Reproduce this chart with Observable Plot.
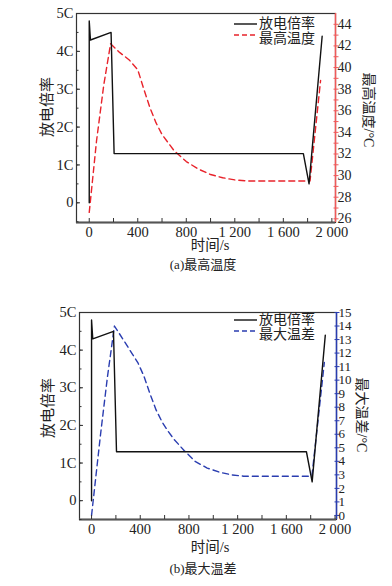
<!DOCTYPE html>
<html><head><meta charset="utf-8">
<script src="https://cdn.jsdelivr.net/npm/d3@7"></script>
<script src="https://cdn.jsdelivr.net/npm/@observablehq/plot@0.6"></script>
<style>
body{margin:0;background:#fff;}
#root{position:relative;width:392px;height:586px;font-family:"Liberation Serif","Times New Roman","DejaVu Serif","Noto Sans CJK SC",serif;color:#222;overflow:hidden;}
.abs{position:absolute;white-space:nowrap;line-height:1;}
.c{transform:translate(-50%,-50%);}
.rl{transform:translate(-50%,-50%) rotate(-90deg);}
.rr{transform:translate(-50%,-50%) rotate(90deg);}
</style></head><body><div id="root"></div>
<script>
// discharge rate (C) vs time (s)
const rateTime  = [0, 0, 10, 180, 205, 1765, 1812, 1920];
const rateValue = [0, 4.8, 4.3, 4.5, 1.3, 1.3, 0.5, 4.4];
// (a) maximum temperature (°C)
const maxTempTime  = [0, 60, 120, 176, 250, 330, 400, 450, 500, 550, 600, 700, 800, 900, 1000, 1100, 1200, 1300, 1820, 1907];
const maxTempValue = [26.6, 33.2, 38.4, 42.2, 41.4, 40.7, 39.8, 38.0, 36.3, 34.9, 33.8, 32.3, 31.3, 30.6, 30.1, 29.8, 29.6, 29.5, 29.5, 38.8];
// (b) maximum temperature difference (°C)
const maxDiffTime  = [0, 74, 130, 188, 260, 330, 380, 430, 480, 530, 580, 630, 680, 760, 850, 950, 1050, 1150, 1250, 1810, 1912];
const maxDiffValue = [0, 6.0, 10.2, 14.0, 13.0, 12.0, 11.3, 10.3, 9.0, 7.8, 6.9, 6.2, 5.6, 4.8, 4.0, 3.5, 3.2, 3.0, 2.9, 2.9, 11.3];
// tick labels
const xTicks = [0, 400, 800, 1200, 1600, 2000];
const xTickLabels = ["0", "400", "800", "1 200", "1 600", "2 000"];
const rateTicks = [0, 1, 2, 3, 4, 5];
const rateTickLabels = ["0", "1C", "2C", "3C", "4C", "5C"];
const tempTicks = [26, 28, 30, 32, 34, 36, 38, 40, 42, 44];
const diffTicks = [0,1,2,3,4,5,6,7,8,9,10,11,12,13,14,15];

const FONT = '"Liberation Serif","Times New Roman","DejaVu Serif","Noto Sans CJK SC",serif';
const root = document.getElementById("root");

function addDiv(html, x, y, cls, size) {
  const d = document.createElement("div");
  d.className = "abs " + cls;
  d.style.left = x + "px"; d.style.top = y + "px";
  d.style.fontSize = size + "px";
  d.innerHTML = html;
  root.appendChild(d);
  return d;
}

function panel(cfg) {
  const rateRows = rateTime.map((t, i) => ({t, v: rateValue[i]}));
  const [r0, r1] = cfg.rightDomain, [l0, l1] = cfg.yDomain;
  const toLeft = v => l0 + (v - r0) / (r1 - r0) * (l1 - l0);
  const fromLeft = u => r0 + (u - l0) / (l1 - l0) * (r1 - r0);
  const secRows = cfg.secTime.map((t, i) => ({t, v: toLeft(cfg.secValue[i])}));
  const minorLeft = d3.range(-0.5, 5.01, 0.5);
  const minorX = d3.range(0, 2001, 200).filter(v => v <= cfg.xDomain[1]);
  const rightMinor = cfg.rightMinor.map(toLeft);
  const rightMajor = cfg.rightMajor.map(toLeft);
  const svg = Plot.plot({
    width: 392, height: cfg.height,
    marginLeft: cfg.ml, marginRight: cfg.mr, marginTop: cfg.mt, marginBottom: cfg.mb,
    style: {fontFamily: FONT, fontSize: "14px", color: "#222", background: "transparent", overflow: "visible"},
    x: {domain: cfg.xDomain, axis: null},
    y: {domain: cfg.yDomain, axis: null},
    marks: [
      Plot.line(secRows, {x: "t", y: "v", stroke: cfg.color, strokeWidth: 1.4, strokeDasharray: "6,4"}),
      Plot.line(rateRows, {x: "t", y: "v", stroke: "#111", strokeWidth: 1.4}),
      Plot.frame({stroke: "#333", strokeWidth: 1.2}),
      Plot.ruleY([cfg.yDomain[0]], {stroke: "#555", strokeWidth: 2}),
      Plot.ruleX([cfg.xDomain[1]], {stroke: cfg.axisColor, strokeWidth: 1.5}),
      // left axis
      Plot.axisY(minorLeft, {anchor: "left", label: null, tickSize: -2.5, tickFormat: () => "", stroke: "#333"}),
      Plot.axisY(rateTicks, {anchor: "left", label: null, tickSize: -4, tickFormat: () => "", stroke: "#333"}),
      Plot.axisY(rateTicks, {anchor: "left", label: null, tickSize: 0, tickPadding: 3, fontSize: 14.5, fill: "#222",
        tickFormat: d => rateTickLabels[rateTicks.indexOf(d)]}),
      // bottom axis
      Plot.axisX(minorX, {anchor: "bottom", label: null, tickSize: -4, tickFormat: () => "", stroke: "#333"}),
      Plot.axisX(xTicks, {anchor: "bottom", label: null, tickSize: 0, tickPadding: 4, fontSize: 14.5, fill: "#222",
        tickFormat: d => xTickLabels[xTicks.indexOf(d)]}),
      // right axis
      Plot.axisY(rightMinor, {anchor: "right", label: null, tickSize: 2.5, tickFormat: () => "", stroke: cfg.axisColor}),
      Plot.axisY(rightMinor, {anchor: "right", label: null, tickSize: -2.5, tickFormat: () => "", stroke: cfg.axisColor}),
      Plot.axisY(rightMajor, {anchor: "right", label: null, tickSize: 0, tickPadding: 2, fontSize: cfg.rightFont, fill: "#222",
        tickFormat: d => String(Math.round(fromLeft(d)))})
    ]
  });
  svg.style.position = "absolute";
  svg.style.left = "0px";
  svg.style.top = cfg.top + "px";
  root.appendChild(svg);
}

function legend(x, y, secLabel, color) {
  const s1 = `<svg width="24" height="4" style="display:block"><line x1="0" y1="2" x2="23" y2="2" stroke="#111" stroke-width="1.4"/></svg>`;
  const s2 = `<svg width="24" height="4" style="display:block"><line x1="0" y1="2" x2="23" y2="2" stroke="${color}" stroke-width="1.4" stroke-dasharray="5,3"/></svg>`;
  const d1 = addDiv("", x, y, "", 14);
  d1.innerHTML = `<div style="position:absolute;left:0;top:-2px">${s1}</div><div style="position:absolute;left:25px;top:-7px">放电倍率</div>`;
  const d2 = addDiv("", x, y + 13.5, "", 14);
  d2.innerHTML = `<div style="position:absolute;left:0;top:-5px">${s2}</div><div style="position:absolute;left:25px;top:-6px">${secLabel}</div>`;
}

// (a)
panel({
  top: 0, height: 250, ml: 76, mr: 57, mt: 13, mb: 28,
  xDomain: [-105, 2030], yDomain: [-0.52, 5],
  rightDomain: [25.66, 45], rightMajor: tempTicks, rightMinor: d3.range(26, 45, 1), rightFont: 14,
  secTime: maxTempTime, secValue: maxTempValue,
  color: "#e8232b", axisColor: "#f05a5a"
});
addDiv("放电倍率", 47, 107, "rl", 15);
addDiv("最高温度/°C", 368, 110, "rr", 14);
addDiv("时间/s", 210, 245, "c", 14.5);
addDiv("(a)最高温度", 203, 264, "c", 13);
legend(234, 24, "最高温度", "#e8232b");

// (b)
panel({
  top: 299, height: 250, ml: 79, mr: 56, mt: 13, mb: 30,
  xDomain: [-99, 2012], yDomain: [-0.5, 5],
  rightDomain: [-0.3, 15], rightMajor: diffTicks, rightMinor: diffTicks, rightFont: 13,
  secTime: maxDiffTime, secValue: maxDiffValue,
  color: "#2a3db0", axisColor: "#2a3db0"
});
addDiv("放电倍率", 48, 408, "rl", 15);
addDiv("最大温差/°C", 361, 415, "rr", 14);
addDiv("时间/s", 210, 547, "c", 14.5);
addDiv("(b)最大温差", 203, 568, "c", 13);
legend(234, 320, "最大温差", "#2a3db0");
</script>
</body></html>
